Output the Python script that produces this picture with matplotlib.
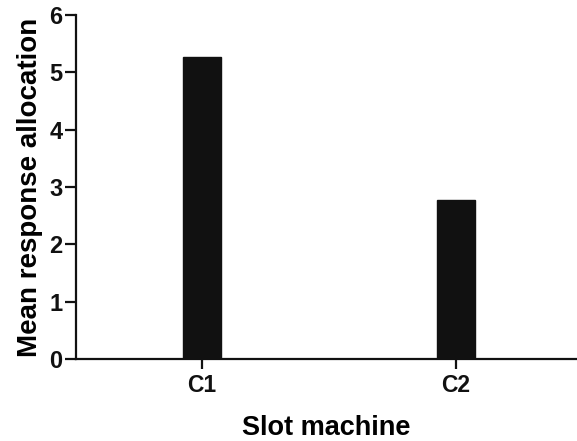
import numpy as np
import matplotlib.pyplot as plt

plt.rcParams['font.family'] = ['Liberation Sans', 'DejaVu Sans']
plt.rcParams['font.weight'] = 'bold'

machines = ["C1", "C2"]
allocation = [5.26, 2.77]

fig = plt.figure(figsize=(5.77, 4.41), dpi=100)
ax = fig.add_axes([0.132, 0.186, 0.868, 0.780])

x = np.arange(len(machines))
ax.bar(x, allocation, width=0.15, color="#111111", edgecolor="#111111")

ax.set_xlim(-0.496, 1.476)
ax.set_ylim(0, 6)
ax.set_yticks(range(0, 7))
ax.set_xticks(x)
ax.set_xticklabels(machines)

for s in ["top", "right"]:
    ax.spines[s].set_visible(False)
for s in ["left", "bottom"]:
    ax.spines[s].set_linewidth(1.6)
    ax.spines[s].set_color("#111111")

ax.tick_params(axis="y", length=8, width=1.6, pad=2, labelsize=17, colors="#111111")
ax.tick_params(axis="x", length=7, width=1.6, pad=4, labelsize=16.5, colors="#111111")

ax.set_xlabel("Slot machine", fontsize=19.5, fontweight="bold", labelpad=13)
ax.set_ylabel("Mean response allocation", fontsize=20, fontweight="bold", labelpad=4)

fig.savefig("out.png", dpi=100)
